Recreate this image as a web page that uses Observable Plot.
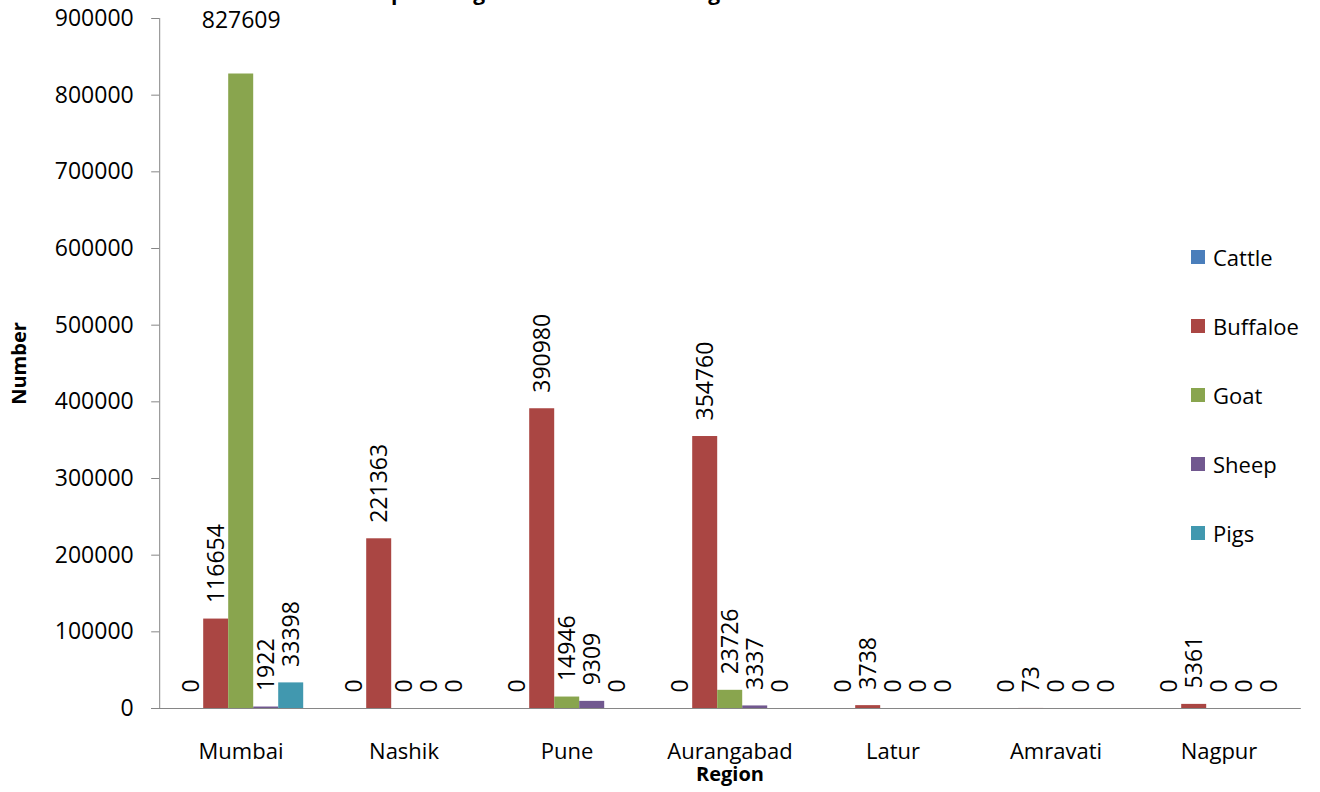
<!DOCTYPE html>
<html>
<head>
<meta charset="utf-8">
<script src="https://cdn.jsdelivr.net/npm/d3@7"></script>
<script src="https://cdn.jsdelivr.net/npm/@observablehq/plot@0.6"></script>
<style>
  html, body { margin: 0; padding: 0; background: #fff; }
  #wrap { position: relative; width: 1320px; height: 792px; overflow: hidden; font-family: "Open Sans", sans-serif; }
  #title { position: absolute; left: 0; width: 1312px; top: -18px; text-align: center; font-weight: bold; font-size: 21px; line-height: 21px; white-space: nowrap; }
  #legend { position: absolute; left: 1191px; top: 0; }
  .item { position: absolute; left: 0; height: 30px; display: flex; align-items: center; white-space: nowrap; font-size: 22px; }
  .sw { width: 14px; height: 14px; margin-right: 8px; }
  svg g[aria-label="fx-axis label"] text, svg g[aria-label="y-axis label"] text { font-weight: bold; font-size: 20px; }
</style>
</head>
<body>
<div id="wrap">
  <div id="title">Graph 1: Region wise animals slaughtered in Maharashtra</div>
  <div id="chart"></div>
  <div id="legend"></div>
</div>
<script>
const regions = ["Mumbai", "Nashik", "Pune", "Aurangabad", "Latur", "Amravati", "Nagpur"];
const species = ["Cattle", "Buffaloe", "Goat", "Sheep", "Pigs"];
const cattle   = [0, 0, 0, 0, 0, 0, 0];
const buffaloe = [116654, 221363, 390980, 354760, 3738, 73, 5361];
const goat     = [827609, 0, 14946, 23726, 0, 0, 0];
const sheep    = [1922, 0, 9309, 3337, 0, 0, 0];
const pigs     = [33398, 0, 0, 0, 0, 0, 0];
const colors   = ["#4A7EBB", "#AA4643", "#89A54E", "#71588F", "#4198AF"];
const yTicks   = [0, 100000, 200000, 300000, 400000, 500000, 600000, 700000, 800000, 900000];

const series = [cattle, buffaloe, goat, sheep, pigs];
const rows = regions.flatMap((r, i) => species.map((s, j) => ({region: r, species: s, value: series[j][i]})));
const maxVal = d3.max(rows, d => d.value);

const OUT = 17.8; // half of the gap between region groups
const chart = Plot.plot({
  width: 1320,
  height: 792,
  marginLeft: 159 + OUT,
  marginRight: 19 + OUT,
  marginTop: 18,
  marginBottom: 84,
  style: {fontFamily: "Open Sans", fontSize: "22px", color: "#000", background: "#fff", overflow: "visible"},
  fx: {domain: regions, paddingInner: 0.218, paddingOuter: 0, label: null},
  x: {domain: species, padding: 0, axis: null},
  y: {domain: [0, 900000]},
  color: {domain: species, range: colors},
  marks: [
    Plot.barY(rows, {fx: "region", x: "species", y: "value", fill: "species"}),
    Plot.text(rows.filter(d => d.value !== maxVal), {
      fx: "region", x: "species", y: "value", text: d => String(d.value),
      rotate: -90, textAnchor: "start", lineAnchor: "middle", dy: -16, fontSize: 23, fill: "#000"
    }),
    Plot.text(rows.filter(d => d.value === maxVal), {
      fx: "region", x: "species", frameAnchor: "top", text: d => String(d.value),
      lineAnchor: "middle", dy: 2, fontSize: 23, fill: "#000"
    }),
    Plot.axisY({ticks: yTicks, tickFormat: d => String(d), tickSize: 8, tickPadding: 18, fontSize: 23, dx: -OUT,
      stroke: "#868686", label: "Number", labelArrow: "none", labelAnchor: "center", labelOffset: 166}),
    Plot.axisFx({anchor: "bottom", tickSize: 0, tickPadding: 35, label: "Region", labelArrow: "none", labelAnchor: "center", labelOffset: 72}),
    Plot.frame({anchor: "left", stroke: "#868686", facet: "super", insetLeft: -OUT}),
    Plot.frame({anchor: "bottom", stroke: "#868686", facet: "super", insetLeft: -OUT - 8, insetRight: -OUT})
  ]
});
document.getElementById("chart").appendChild(chart);

const legend = document.getElementById("legend");
species.forEach((s, j) => {
  const it = document.createElement("div");
  it.className = "item";
  it.style.top = (242 + j * 69) + "px";
  const sw = document.createElement("div");
  sw.className = "sw";
  sw.style.background = colors[j];
  const tx = document.createElement("span");
  tx.textContent = s;
  it.appendChild(sw);
  it.appendChild(tx);
  legend.appendChild(it);
});
</script>
</body>
</html>
